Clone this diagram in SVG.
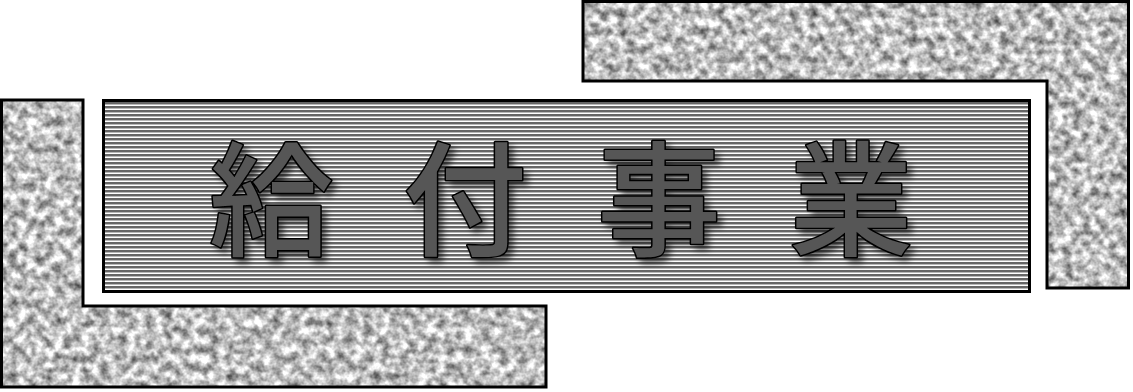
<svg xmlns="http://www.w3.org/2000/svg" width="1133" height="392" viewBox="0 0 1133 392">
  <style>
    .frame { fill: none; stroke: #000; stroke-width: 3; }
    .glyph { font-family: "Noto Sans CJK JP", "Noto Sans CJK SC", sans-serif; font-size: 124px; font-weight: 500; fill: #575757; stroke: #000; stroke-width: 3; paint-order: stroke fill; stroke-linejoin: round; text-anchor: middle; filter: url(#shadow); }
  </style>
  <defs>
    <filter id="granite" x="0" y="0" width="100%" height="100%" color-interpolation-filters="sRGB">
      <feTurbulence type="fractalNoise" baseFrequency="0.11" numOctaves="3" seed="7" result="noise"/>
      <feColorMatrix in="noise" type="matrix" values="1.15 0 0 0 0.17  1.15 0 0 0 0.17  1.15 0 0 0 0.17  0 0 0 0 1" result="gray"/>
      <feComposite in="gray" in2="SourceGraphic" operator="in"/>
    </filter>
    <filter id="shadow" x="-20%" y="-20%" width="140%" height="140%">
      <feGaussianBlur in="SourceAlpha" stdDeviation="3"/>
      <feOffset dx="5" dy="5" result="b"/>
      <feFlood flood-color="#000" flood-opacity="0.55"/>
      <feComposite in2="b" operator="in" result="s"/>
      <feMerge><feMergeNode in="s"/><feMergeNode in="SourceGraphic"/></feMerge>
    </filter>
    <pattern id="stripes" x="0" y="102" width="8" height="4" patternUnits="userSpaceOnUse">
      <rect width="8" height="4" fill="#fff"/>
      <rect y="0" width="8" height="2" fill="#666"/>
      <rect y="2" width="8" height="1" fill="#b8b8b8"/>
    </pattern>
  </defs>
  <rect width="1133" height="392" fill="#fff"/>
  <g id="granite-left">
    <path d="M1.5,100 H83 V306 H546 V387 H1.5 Z" fill="#000" filter="url(#granite)"/>
    <path class="frame" d="M1.5,100 H83 V306 H546 V387 H1.5 Z"/>
  </g>
  <g id="granite-right">
    <path d="M583,1.5 H1128.5 V288 H1047 V81 H583 Z" fill="#000" filter="url(#granite)"/>
    <path class="frame" d="M583,1.5 H1128.5 V288 H1047 V81 H583 Z"/>
  </g>
  <g id="title">
    <rect x="103.5" y="100.5" width="926" height="191" fill="url(#stripes)"/>
    <rect class="frame" x="103.5" y="100.5" width="926" height="191"/>
    <text class="glyph" x="271" y="246">給</text>
    <text class="glyph" x="465" y="246">付</text>
    <text class="glyph" x="659" y="246">事</text>
    <text class="glyph" x="851" y="246">業</text>
  </g>
</svg>
